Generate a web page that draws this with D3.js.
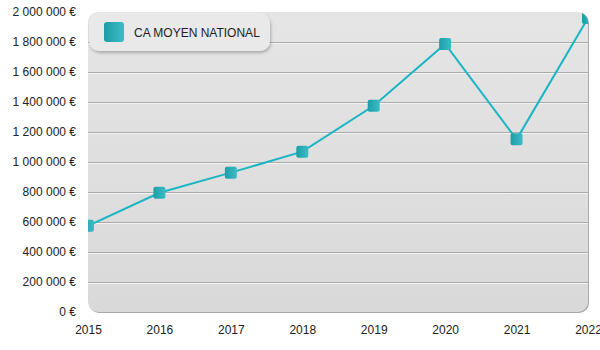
<!DOCTYPE html>
<html><head><meta charset="utf-8">
<script src="https://cdn.jsdelivr.net/npm/d3@7"></script>
<style>body{margin:0;background:#fff}svg{display:block}text{font-family:"Liberation Sans",Arial,sans-serif}</style>
</head><body><svg id="c" width="600" height="350"></svg>
<script>
const years = ["2015","2016","2017","2018","2019","2020","2021","2022"];
const values = [575000, 795000, 929000, 1069000, 1375000, 1787000, 1151000, 1960000];
const yTicks = [0,200000,400000,600000,800000,1000000,1200000,1400000,1600000,1800000,2000000];
const seriesName = "CA MOYEN NATIONAL";

const svg = d3.select("#c");
const m = {l:88, r:12, t:12, b:38};
const W = 600, H = 350;
const iw = W - m.l - m.r, ih = H - m.t - m.b;
const x = d3.scalePoint().domain(years).range([0, iw]);
const y = d3.scaleLinear().domain([0, 2000000]).range([ih, 0]);
const fmt = v => d3.format(",")(v).replace(/,/g, " ") + " €";

const defs = svg.append("defs");
const bg = defs.append("linearGradient").attr("id","bg").attr("x1",0).attr("y1",0).attr("x2",0).attr("y2",1);
bg.append("stop").attr("offset","0%").attr("stop-color","#e5e5e5");
bg.append("stop").attr("offset","100%").attr("stop-color","#d9d9d9");
const mg = defs.append("linearGradient").attr("id","mk").attr("x1",0).attr("y1",0).attr("x2",1).attr("y2",0);
mg.append("stop").attr("offset","0%").attr("stop-color","#1c9ea8");
mg.append("stop").attr("offset","100%").attr("stop-color","#3cbcc5");
defs.append("clipPath").attr("id","clip").append("rect").attr("width",iw).attr("height",ih+1).attr("rx",10);
const sh = defs.append("filter").attr("id","sh").attr("x","-10%").attr("y","-10%").attr("width","130%").attr("height","140%");
sh.append("feDropShadow").attr("dx",1).attr("dy",2).attr("stdDeviation",1.5).attr("flood-color","#000").attr("flood-opacity",0.25);

const g = svg.append("g").attr("transform",`translate(${m.l},${m.t})`);
// plot background with bottom/right shadow edge
g.append("rect").attr("x",1).attr("y",1).attr("width",iw).attr("height",ih).attr("rx",10).attr("fill","#a9a9a9");
g.append("rect").attr("width",iw).attr("height",ih).attr("rx",10).attr("fill","url(#bg)");

// gridlines
const grid = g.append("g");
yTicks.filter(t => t > 0 && t < 2000000).forEach(t => {
  grid.append("line").attr("x1",0).attr("x2",iw).attr("y1",y(t)+0.5).attr("y2",y(t)+0.5).attr("stroke","#aaaaaa");
  grid.append("line").attr("x1",0).attr("x2",iw).attr("y1",y(t)+1.5).attr("y2",y(t)+1.5).attr("stroke","#f4f4f4");
});

// y axis labels
const ya = g.append("g").call(d3.axisLeft(y).tickValues(yTicks).tickFormat(fmt).tickSize(0).tickPadding(12));
ya.select(".domain").remove();
ya.selectAll("text").attr("font-size",12).attr("fill","#222").attr("font-family","'Liberation Sans',Arial,sans-serif");

// x axis labels
const xa = g.append("g").attr("transform",`translate(0,${ih})`).call(d3.axisBottom(x).tickSize(0).tickPadding(13));
xa.select(".domain").remove();
xa.selectAll("text").attr("font-size",12).attr("fill","#222").attr("font-family","'Liberation Sans',Arial,sans-serif");

// line + markers
const data = years.map((yr,i)=>({yr, v:values[i]}));
const pg = g.append("g").attr("clip-path","url(#clip)");
pg.append("path").datum(data).attr("fill","none").attr("stroke","#1ab5c4").attr("stroke-width",2)
  .attr("d", d3.line().x(d=>x(d.yr)).y(d=>y(d.v)));
pg.selectAll("rect.mk").data(data).join("rect").attr("class","mk")
  .attr("x",d=>x(d.yr)-6).attr("y",d=>y(d.v)-6).attr("width",12).attr("height",12).attr("rx",2)
  .attr("fill","url(#mk)");

// legend
const lg = svg.append("g").attr("transform","translate(89,13)");
lg.append("rect").attr("width",181).attr("height",38).attr("rx",10).attr("fill","#e9e9e9").attr("filter","url(#sh)");
lg.append("rect").attr("x",15).attr("y",9).attr("width",20).attr("height",20).attr("rx",3).attr("fill","url(#mk)");
lg.append("text").attr("x",45).attr("y",24).attr("font-size",12).attr("fill","#222").text(seriesName);
</script></body></html>
